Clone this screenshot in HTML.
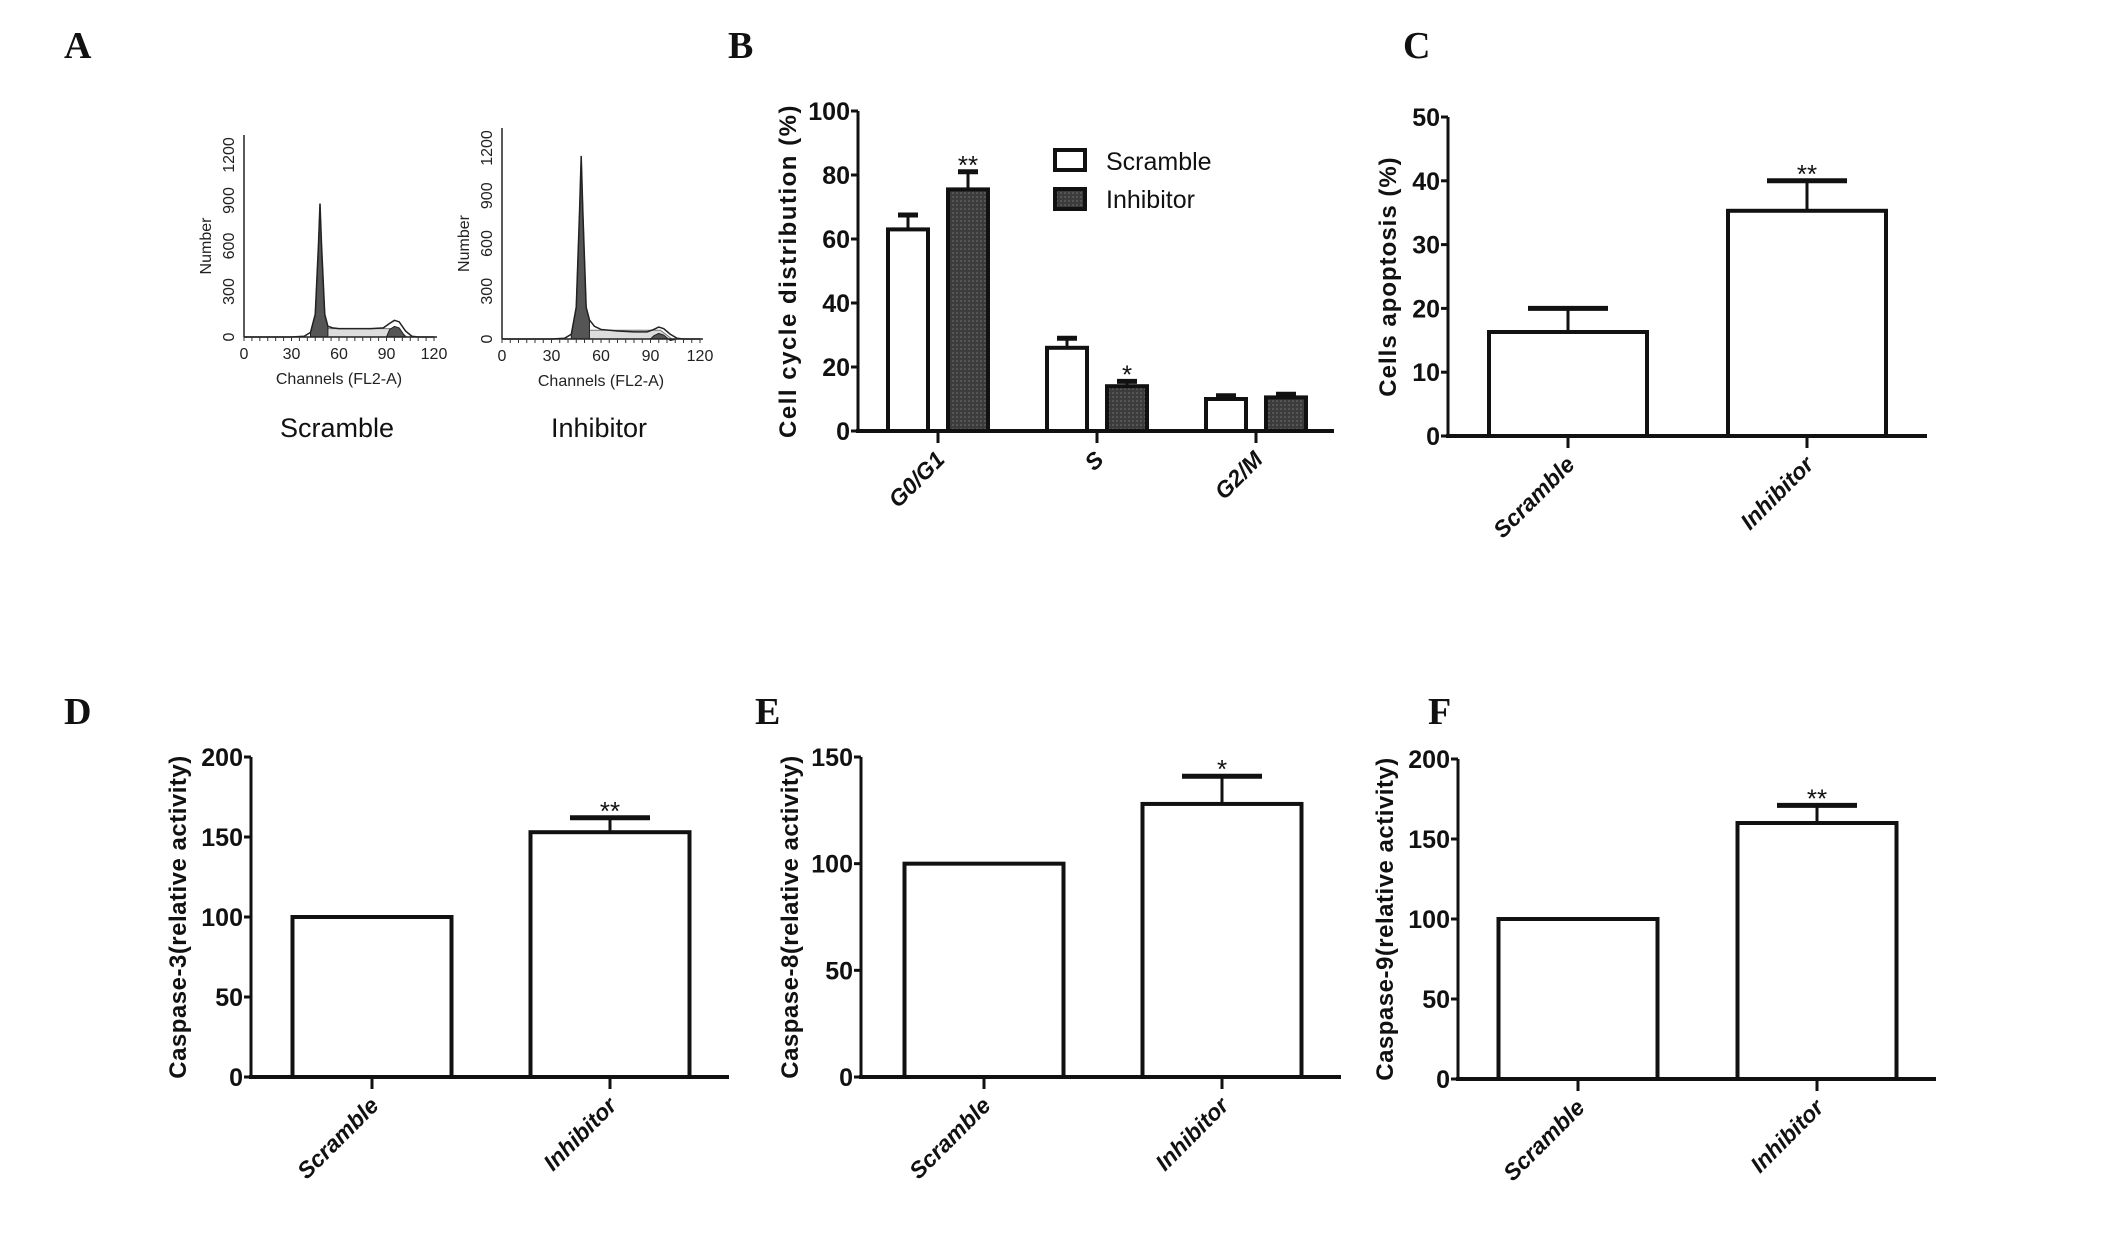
<!DOCTYPE html>
<html><head><meta charset="utf-8">
<style>
html,body{margin:0;padding:0;background:#fff;}
svg{display:block;}
.tick{font-family:"Liberation Sans Narrow","Liberation Sans",sans-serif;font-weight:bold;font-size:25px;fill:#111;}
.ylab{font-family:"Liberation Sans",sans-serif;font-weight:bold;font-size:24px;fill:#111;}
.cat{font-family:"Liberation Sans",sans-serif;font-weight:bold;font-style:italic;font-size:23px;fill:#111;}
.plabel{font-family:"Liberation Serif",serif;font-weight:bold;font-size:38px;fill:#111;}
.small{font-family:"Liberation Sans Narrow","Liberation Sans",sans-serif;font-size:16px;fill:#222;}
.star{font-family:"Liberation Sans Narrow","Liberation Sans",sans-serif;font-size:26px;fill:#111;}
.leg{font-family:"Liberation Sans Narrow","Liberation Sans",sans-serif;font-size:25px;fill:#111;}
.cap{font-family:"Liberation Sans Narrow","Liberation Sans",sans-serif;font-size:27px;fill:#111;}
</style></head>
<body>
<svg id="fig" width="2126" height="1254" viewBox="0 0 2126 1254" xmlns="http://www.w3.org/2000/svg">
<defs>
<pattern id="hatch" width="4" height="4" patternUnits="userSpaceOnUse">
<rect width="4" height="4" fill="#3c3c3c"/><rect width="2" height="2" fill="#555"/>
</pattern>
</defs>
<text class="plabel" x="64" y="58">A</text>
<text class="plabel" x="728" y="58">B</text>
<text class="plabel" x="1403" y="58">C</text>
<text class="plabel" x="64" y="724">D</text>
<text class="plabel" x="755" y="724">E</text>
<text class="plabel" x="1428" y="724">F</text>
<g id="charts"></g>
</svg>
<script>
// ---- Panel B data ----
const bCategories = ["G0/G1", "S", "G2/M"];
const bScramble = [63, 26, 10];
const bScrambleErr = [67.5, 29, 11];
const bInhibitor = [75.5, 14, 10.5];
const bInhibitorErr = [81, 15.5, 11.5];
const bStars = ["**", "*", ""];
const bTicks = [0, 20, 40, 60, 80, 100];
// ---- Panel C ----
const cCategories = ["Scramble", "Inhibitor"];
const cValues = [16.3, 35.3];
const cErr = [20, 40];
const cStars = ["", "**"];
const cTicks = [0, 10, 20, 30, 40, 50];
// ---- Panel D ----
const dValues = [100, 153];
const dErr = [100, 162];
const dStars = ["", "**"];
const dTicks = [0, 50, 100, 150, 200];
// ---- Panel E ----
const eValues = [100, 128];
const eErr = [100, 141];
const eStars = ["", "*"];
const eTicks = [0, 50, 100, 150];
// ---- Panel F ----
const fValues = [100, 160];
const fErr = [100, 171];
const fStars = ["", "**"];
const fTicks = [0, 50, 100, 150, 200];
// ---- Panel A histograms (channel, count) ----
const histChannels = [0, 30, 38, 42, 45, 47, 48, 49, 51, 53, 56, 60, 70, 80, 88, 92, 95, 98, 102, 106, 110, 120];
const histScramble = [0, 0, 5, 30, 150, 600, 880, 600, 150, 70, 60, 55, 55, 55, 60, 90, 110, 100, 40, 5, 0, 0];
const histInhibitor = [0, 0, 5, 30, 200, 800, 1150, 800, 200, 120, 80, 60, 50, 45, 45, 60, 75, 65, 30, 5, 0, 0];
const histXTicks = [0, 30, 60, 90, 120];
const histYTicks = [0, 300, 600, 900, 1200];

const NS = "http://www.w3.org/2000/svg";
const root = document.getElementById("charts");
function mk(tag, attrs, parent, text) {
  const e = document.createElementNS(NS, tag);
  for (const k in attrs) e.setAttribute(k, attrs[k]);
  if (text !== undefined) e.textContent = text;
  (parent || root).appendChild(e);
  return e;
}

function barChart(cfg) {
  const g = mk("g", {});
  
  
  const y = v => cfg.y0 - (v - 0) / cfg.max * (cfg.y0 - cfg.yTop);
  const ya = mk("line", {x1: cfg.x0, y1: cfg.yTop, x2: cfg.x0, y2: cfg.y0 + 2, stroke: "#111", "stroke-width": 3}, g);
  
  
  const xa = mk("line", {x1: cfg.x0 - 2, y1: cfg.y0, x2: cfg.xEnd, y2: cfg.y0, stroke: "#111", "stroke-width": 4}, g);
  
  
  cfg.ticks.forEach(t => {
    const ty = y(t);
    const tl = mk("line", {x1: cfg.x0 - 7, y1: ty, x2: cfg.x0, y2: ty, stroke: "#111", "stroke-width": 3}, g);
    
    
    const tt = mk("text", {class: "tick", x: cfg.x0 - 8, y: ty + 9, "text-anchor": "end"}, g, String(t));
    
    
  });
  const yl = mk("text", {class: "ylab", x: 0, y: 0, "text-anchor": "middle", "letter-spacing": cfg.ls || 0, transform: `translate(${cfg.ylabX},${(cfg.yTop + cfg.y0) / 2}) rotate(-90)`}, g, cfg.ylabel);
  
  
  cfg.groups.forEach((grp, i) => {
    const cx = cfg.catX[i];
    const tk = mk("line", {x1: cx, y1: cfg.y0, x2: cx, y2: cfg.y0 + 12, stroke: "#111", "stroke-width": 3}, g);
    
    
    const cl = mk("text", {class: "cat", x: 0, y: 0, "text-anchor": "end", transform: `translate(${cx + 8},${cfg.y0 + 30}) rotate(-45)`}, g, cfg.cats[i]);
    
    
    grp.forEach(b => {
      const bx = cx + b.off - cfg.bw / 2;
      const top = y(b.v);
      const r = mk("rect", {x: bx, y: top, width: cfg.bw, height: cfg.y0 - top, fill: b.fill, stroke: "#111", "stroke-width": 4}, g);
      
      
      if (b.e > b.v) {
        const ey = y(b.e);
        const el = mk("line", {x1: bx + cfg.bw / 2, y1: top, x2: bx + cfg.bw / 2, y2: ey, stroke: "#111", "stroke-width": 3}, g);
        
        
        const cap = mk("line", {x1: bx + cfg.bw / 2 - cfg.cap, y1: ey, x2: bx + cfg.bw / 2 + cfg.cap, y2: ey, stroke: "#111", "stroke-width": 5}, g);
        
        
      }
      if (b.s) {
        const st = mk("text", {class: "star", x: bx + cfg.bw / 2, y: y(b.e) + 2, "text-anchor": "middle"}, g, b.s);
        
        
      }
    });
  });
}

barChart({name: "cell-cycle-chart", x0: 858, y0: 431, yTop: 111, xEnd: 1334, max: 100, ticks: bTicks, ls: 1.5,
  ylabel: "Cell cycle distribution (%)", ylabX: 796, cats: bCategories, catX: [938, 1097, 1256], bw: 40, cap: 10,
  groups: bCategories.map((c, i) => [
    {off: -30, v: bScramble[i], e: bScrambleErr[i], fill: "#fff", s: ""},
    {off: 30, v: bInhibitor[i], e: bInhibitorErr[i], fill: "url(#hatch)", s: bStars[i]}])});
(function(){
  const g = mk("g", {});
  
  
  const r1 = mk("rect", {x: 1055, y: 150, width: 30, height: 20, fill: "#fff", stroke: "#111", "stroke-width": 4}, g);
  
  
  const t1 = mk("text", {class: "leg", x: 1106, y: 170}, g, "Scramble");
  
  
  const r2 = mk("rect", {x: 1055, y: 189, width: 30, height: 20, fill: "url(#hatch)", stroke: "#111", "stroke-width": 4}, g);
  
  
  const t2 = mk("text", {class: "leg", x: 1106, y: 208}, g, "Inhibitor");
  
  
})();
function two(vals, errs, stars) {
  return vals.map((v, i) => [{off: 0, v: v, e: errs[i], fill: "#fff", s: stars[i]}]);
}
barChart({name: "apoptosis-chart", x0: 1448, y0: 436, yTop: 117, xEnd: 1927, max: 50, ticks: cTicks, ls: 1,
  ylabel: "Cells apoptosis (%)", ylabX: 1396, cats: cCategories, catX: [1568, 1807], bw: 158, cap: 40,
  groups: two(cValues, cErr, cStars)});
barChart({name: "caspase3-chart", x0: 251, y0: 1077, yTop: 757, xEnd: 729, max: 200, ticks: dTicks, ls: 0.5,
  ylabel: "Caspase-3(relative activity)", ylabX: 186, cats: cCategories, catX: [372, 610], bw: 159, cap: 40,
  groups: two(dValues, dErr, dStars)});
barChart({name: "caspase8-chart", x0: 861, y0: 1077, yTop: 757, xEnd: 1341, max: 150, ticks: eTicks, ls: 0.5,
  ylabel: "Caspase-8(relative activity)", ylabX: 798, cats: cCategories, catX: [984, 1222], bw: 159, cap: 40,
  groups: two(eValues, eErr, eStars)});
barChart({name: "caspase9-chart", x0: 1458, y0: 1079, yTop: 759, xEnd: 1936, max: 200, ticks: fTicks, ls: 0.5,
  ylabel: "Caspase-9(relative activity)", ylabX: 1393, cats: cCategories, catX: [1578, 1817], bw: 159, cap: 40,
  groups: two(fValues, fErr, fStars)});

function hist(cfg) {
  const g = mk("g", {});
  
  
  const x = c => cfg.x0 + c / 120 * (cfg.x1 - cfg.x0);
  const y = v => cfg.y0 - v / 1200 * (cfg.y0 - cfg.y1200);
  const sp = mk("polygon", {points: `${x(50)},${y(0)} ${x(53)},${y(55)} ${x(96)},${y(55)} ${x(103)},${y(0)}`, fill: "#ddd", stroke: "#777", "stroke-width": 1}, g);
  
  
  let pts = histChannels.map((c, i) => `${x(c)},${y(cfg.data[i])}`).join(" ");
  const peakIdx = histChannels.map((c, i) => i).filter(i => histChannels[i] >= 42 && histChannels[i] <= 53);
  const pk = [`${x(42)},${y(0)}`].concat(peakIdx.map(i => `${x(histChannels[i])},${y(cfg.data[i])}`)).concat([`${x(53)},${y(0)}`]).join(" ");
  const pp = mk("polygon", {points: pk, fill: "#555", stroke: "#222", "stroke-width": 1}, g);
  
  
  const g2 = [92, 95, 98, 102].map(c => `${x(c)},${y(cfg.data[histChannels.indexOf(c)] - 40)}`);
  const g2p = mk("polygon", {points: `${x(90)},${y(0)} ${g2.join(" ")} ${x(106)},${y(0)}`, fill: "#555", stroke: "#222", "stroke-width": 1}, g);
  
  
  const line = mk("polyline", {points: pts, fill: "none", stroke: "#222", "stroke-width": 1.5}, g);
  
  
  const ax = mk("line", {x1: cfg.x0, y1: cfg.y0, x2: cfg.x1 + 3, y2: cfg.y0, stroke: "#222", "stroke-width": 1.5}, g);
  
  
  const ay = mk("line", {x1: cfg.x0, y1: cfg.y0, x2: cfg.x0, y2: cfg.y1200 - 20, stroke: "#222", "stroke-width": 1.5}, g);
  
  
  histXTicks.forEach(t => {
    const tl = mk("text", {class: "small", x: x(t), y: cfg.y0 + 22, "text-anchor": "middle"}, g, String(t));
    
    
  });
  for (let c = 0; c <= 120; c += 5) {
    const tk = mk("line", {x1: x(c), y1: cfg.y0, x2: x(c), y2: cfg.y0 + 4, stroke: "#333", "stroke-width": 1}, g);
    
    
  }
  histYTicks.forEach(t => {
    const tl = mk("text", {class: "small", x: 0, y: 0, "text-anchor": "middle", transform: `translate(${cfg.x0 - 10},${y(t)}) rotate(-90)`}, g, String(t));
    
    
  });
  const nl = mk("text", {class: "small", x: 0, y: 0, "text-anchor": "middle", transform: `translate(${cfg.x0 - 33},${(cfg.y0 + cfg.y1200) / 2}) rotate(-90)`}, g, "Number");
  
  
  const xl = mk("text", {class: "small", x: (cfg.x0 + cfg.x1) / 2, y: cfg.y0 + 47, "text-anchor": "middle"}, g, "Channels (FL2-A)");
  
  
  const sl = mk("text", {class: "cap", x: (cfg.x0 + cfg.x1) / 2 - 2, y: 437, "text-anchor": "middle"}, g, cfg.label);
  
  
}
hist({name: "histogram-scramble", x0: 244, x1: 434, y0: 337, y1200: 155, data: histScramble, label: "Scramble"});
hist({name: "histogram-inhibitor", x0: 502, x1: 700, y0: 339, y1200: 148, data: histInhibitor, label: "Inhibitor"});
</script>
</body></html>
